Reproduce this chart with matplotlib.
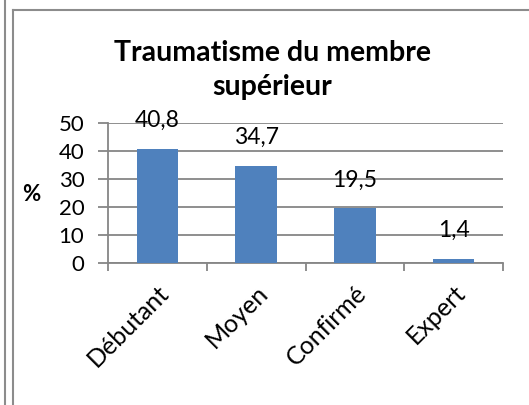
import matplotlib.pyplot as plt
from matplotlib.lines import Line2D

# données du graphique
categories = ['Débutant', 'Moyen', 'Confirmé', 'Expert']
valeurs = [40.8, 34.7, 19.5, 1.4]
etiquettes = ['40,8', '34,7', '19,5', '1,4']
yticks = [0, 10, 20, 30, 40, 50]

plt.rcParams['font.family'] = ['Lato', 'DejaVu Sans']

W, H = 529, 405
fig = plt.figure(figsize=(W / 100, H / 100), dpi=100)

# cadre de la page (traits gris)
gris = '#8c8c8c'
fig.add_artist(Line2D([4.5 / W, 4.5 / W], [0, 1], color=gris, lw=1.5, transform=fig.transFigure))
fig.add_artist(Line2D([12.5 / W, 12.5 / W], [0, 1 - 10 / H], color=gris, lw=1.5, transform=fig.transFigure))
fig.add_artist(Line2D([12.5 / W, 1], [1 - 10 / H, 1 - 10 / H], color=gris, lw=1.5, transform=fig.transFigure))

ax = fig.add_axes([108 / W, 1 - 263 / H, (503 - 108) / W, (263 - 123) / H])

x = range(len(categories))
ax.bar(x, valeurs, width=0.42, color='#4F81BD', zorder=3)

for i, (v, t) in enumerate(zip(valeurs, etiquettes)):
    ax.annotate(t, (i, v), xytext=(0, 13), textcoords='offset points',
                ha='center', va='bottom', fontsize=16.5, zorder=4)

ax.set_xlim(-0.5, len(categories) - 0.5)
ax.set_ylim(0, 50)
ax.set_yticks(yticks)
ax.set_yticklabels([str(t) for t in yticks], fontsize=16)
ax.yaxis.grid(True, color='#868686', lw=1.3, zorder=0)

# graduations x aux limites des catégories
ax.set_xticks([i - 0.5 for i in range(len(categories) + 1)], minor=False)
ax.set_xticklabels([])
ax.set_xticks(list(x), minor=True)
ax.set_xticklabels(categories, minor=True, rotation=45, ha='right', va='top',
                   rotation_mode='anchor', fontsize=18)
ax.tick_params(axis='x', which='minor', length=0, pad=13)
ax.tick_params(axis='x', which='major', length=6, color='#868686', width=1.3)
ax.tick_params(axis='y', length=7, color='#868686', width=1.3, pad=10)

for s in ['top', 'right']:
    ax.spines[s].set_visible(False)
for s in ['left', 'bottom']:
    ax.spines[s].set_color('#868686')
    ax.spines[s].set_linewidth(1.3)

fig.text(272 / W, 1 - 70 / H, 'Traumatisme du membre\nsupérieur', ha='center', va='center',
         fontsize=20.5, fontweight='bold', linespacing=1.35)
fig.text(31 / W, 1 - 195 / H, '%', ha='center', va='center', fontsize=16, fontweight='bold')

fig.savefig('out.png', dpi=100)
